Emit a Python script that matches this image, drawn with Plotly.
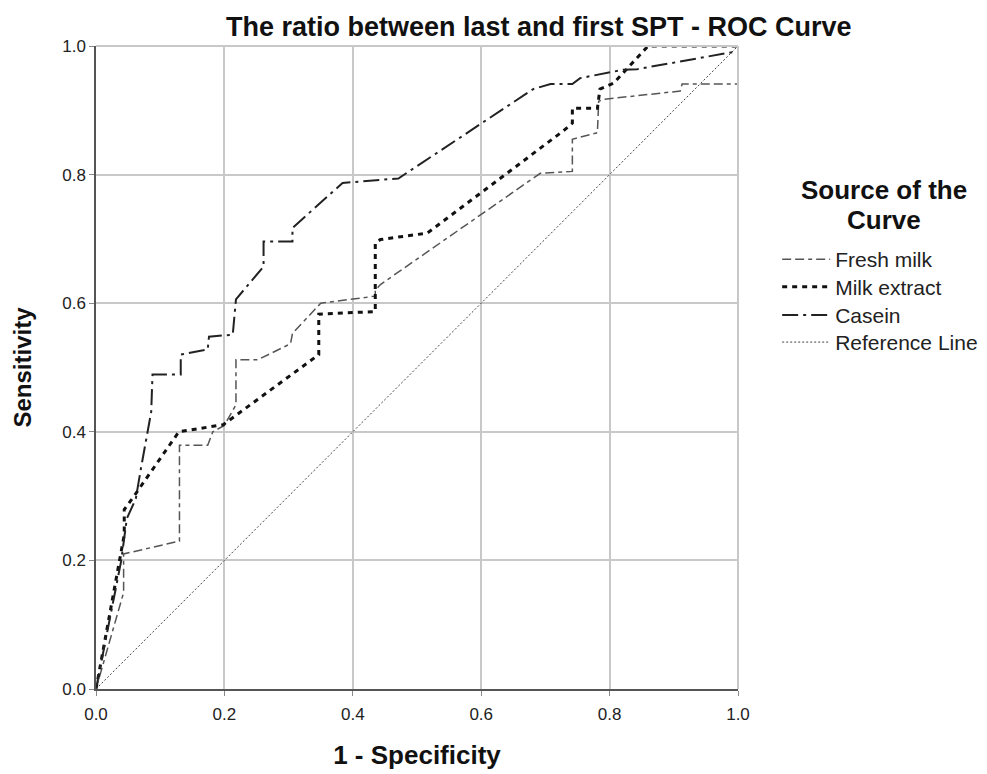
import plotly.graph_objects as go

# ---- data ----
fresh_x = [0.0, 0.043, 0.043, 0.130, 0.130, 0.174, 0.182, 0.200, 0.218, 0.218, 0.252, 0.303, 0.306,
           0.350, 0.435, 0.435, 0.443, 0.692, 0.742, 0.742, 0.781, 0.783, 0.790, 0.910, 0.913, 1.0, 1.0]
fresh_y = [0.0, 0.150, 0.210, 0.230, 0.379, 0.379, 0.400, 0.410, 0.442, 0.512, 0.512, 0.537, 0.553,
           0.600, 0.611, 0.620, 0.629, 0.802, 0.805, 0.855, 0.865, 0.914, 0.917, 0.930, 0.941, 0.941, 1.0]

extract_x = [0.0, 0.044, 0.044, 0.062, 0.129, 0.198, 0.347, 0.347, 0.435, 0.435, 0.443, 0.516,
             0.728, 0.742, 0.742, 0.781, 0.785, 0.806, 0.860, 1.0]
extract_y = [0.0, 0.240, 0.279, 0.304, 0.400, 0.411, 0.520, 0.583, 0.587, 0.693, 0.699, 0.709,
             0.868, 0.880, 0.903, 0.903, 0.933, 0.942, 1.0, 1.0]

casein_x = [0.0, 0.039, 0.048, 0.062, 0.070, 0.081, 0.086, 0.088, 0.132, 0.132, 0.174, 0.176, 0.213,
            0.218, 0.261, 0.261, 0.306, 0.306, 0.384, 0.471, 0.681, 0.708, 0.742, 0.754, 0.821, 0.843,
            1.0, 1.0]
casein_y = [0.0, 0.198, 0.265, 0.296, 0.343, 0.405, 0.431, 0.489, 0.489, 0.520, 0.528, 0.548, 0.551,
            0.606, 0.657, 0.696, 0.696, 0.717, 0.787, 0.794, 0.933, 0.941, 0.941, 0.950, 0.963, 0.964,
            0.992, 1.0]

ref_x = [0.0, 1.0]
ref_y = [0.0, 1.0]

series_names = ["Fresh milk", "Milk extract", "Casein", "Reference Line"]
tick_vals = [0.0, 0.2, 0.4, 0.6, 0.8, 1.0]
tick_text = ["0.0", "0.2", "0.4", "0.6", "0.8", "1.0"]
legend_title_lines = ["Source of the", "Curve"]

FONT = "Liberation Sans, Arial, sans-serif"

styles = [
    dict(color="#555555", width=1.5, dash="9px,4px,9px,4px,4px,4px"),
    dict(color="#111111", width=3, dash="5px,5px"),
    dict(color="#222222", width=2, dash="16px,5px,3px,5px"),
    dict(color="#444444", width=1, dash="2px,2px"),
]
xs = [fresh_x, extract_x, casein_x, ref_x]
ys = [fresh_y, extract_y, casein_y, ref_y]
legend_ids = ["legend", "legend2", "legend3", "legend4"]
legend_y = [0.668, 0.625, 0.581, 0.539]   # centre of each legend entry (paper units)

fig = go.Figure()
for name, x, y, st, lg in zip(series_names, xs, ys, styles, legend_ids):
    fig.add_trace(go.Scatter(x=x, y=y, mode="lines", name=name, line=st, legend=lg))

axis_common = dict(
    range=[0, 1], tickvals=tick_vals, ticktext=tick_text,
    showgrid=True, gridcolor="#c8c8c8", gridwidth=2,
    zeroline=False, showline=True, linecolor="#555555", linewidth=1.5,
    ticks="outside", ticklen=5, tickcolor="#888888",
    tickfont=dict(family=FONT, size=17, color="#222222"),
    fixedrange=True, automargin=False,
)

layout_legends = {}
for lg, ly in zip(legend_ids, legend_y):
    layout_legends[lg] = dict(
        x=1.061, y=ly, xanchor="left", yanchor="middle",
        font=dict(family=FONT, size=21, color="#222222"),
        itemwidth=48, bgcolor="rgba(0,0,0,0)", borderwidth=0,
    )

fig.update_layout(
    width=987, height=774,
    margin=dict(l=88, r=248, t=38, b=93),
    paper_bgcolor="white", plot_bgcolor="white",
    showlegend=True,
    xaxis=dict(**axis_common, ticklabelstandoff=4,
               title=dict(text="<b>1 - Specificity</b>", standoff=23,
                          font=dict(family=FONT, size=26, color="#111111"))),
    yaxis=dict(**axis_common,
               title=dict(text="<b>Sensitivity</b>", standoff=24,
                          font=dict(family=FONT, size=24, color="#111111"))),
    **layout_legends,
)

# light border at top and right (as in the reference)
fig.add_shape(type="line", xref="paper", yref="paper", x0=0, x1=1, y0=1, y1=1,
              line=dict(color="#c8c8c8", width=2))
fig.add_shape(type="line", xref="paper", yref="paper", x0=1, x1=1, y0=0, y1=1,
              line=dict(color="#c8c8c8", width=2))

# legend title (two centred lines)
for txt, ty in zip(legend_title_lines, [0.776, 0.729]):
    fig.add_annotation(text="<b>" + txt + "</b>", xref="paper", yref="paper",
                       x=1.228, y=ty, xanchor="center", yanchor="middle", showarrow=False,
                       font=dict(family=FONT, size=26, color="#111111"))

fig.add_annotation(text="<b>The ratio between last and first SPT - ROC Curve</b>",
                   xref="paper", yref="paper", x=0.69, y=1.0, yshift=2,
                   xanchor="center", yanchor="bottom", showarrow=False,
                   font=dict(family=FONT, size=27, color="#111111"))

fig.write_html("out.html")
